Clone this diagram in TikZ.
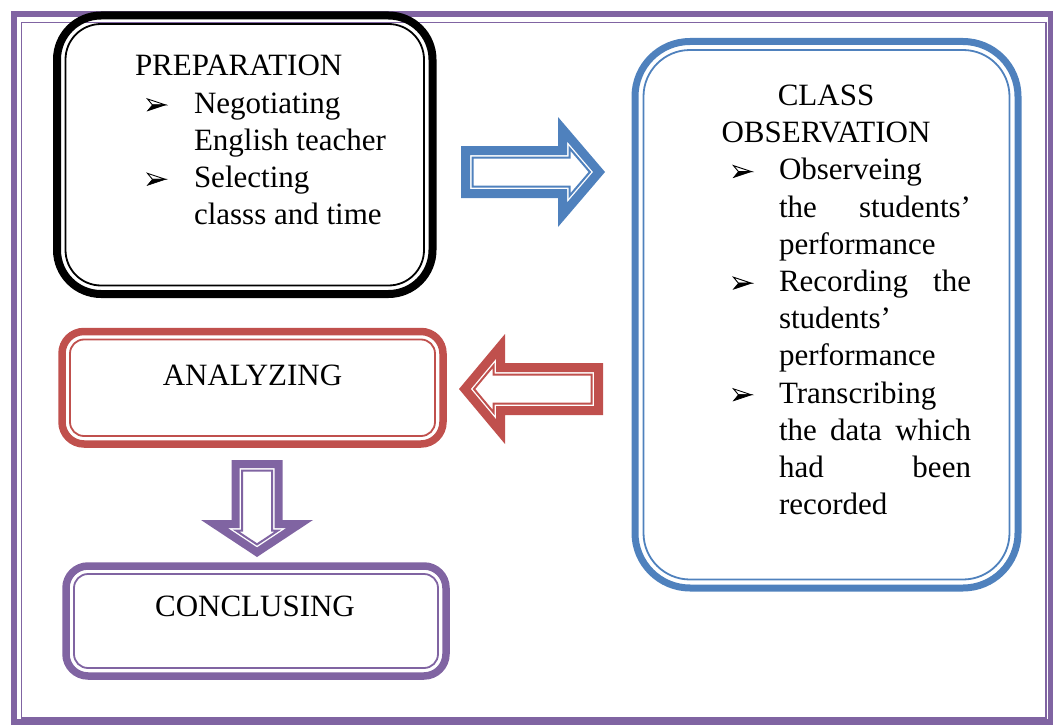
\documentclass[tikz,border=0pt]{standalone}
\usepackage{fontspec}
\setmainfont{Liberation Serif}
\definecolor{oblue}{HTML}{4F81BD}
\definecolor{ored}{HTML}{C0504D}
\definecolor{opurple}{HTML}{8064A2}
% bullet: 3-D arrowhead, upper half outlined, lower half filled
\newcommand\bul{\tikz[x=1pt,y=1pt,baseline=-2.3pt]{%
  \fill[black] (5,6)--(18,6)--(0,0)--cycle;
  \draw[black,line width=0.9pt,line join=miter] (0,12)--(18,6)--(5,6)--cycle;
  \draw[black,line width=0.6pt,line join=miter] (5,6)--(18,6)--(0,0)--cycle;}}
% block arrow in local frame: tail at x=0, tip at x=#2, symmetric about y=0
% #1 options, #2 length, #3 shaft half height, #4 head length, #5 head half height, #6 inset
\newcommand\arrowpoly[6]{%
  \pgfmathsetmacro\aHB{#2-#4}%
  \pgfmathsetmacro\aS{sqrt((#4)*(#4)+(#5)*(#5))}%
  \pgfmathsetmacro\aTx{#2-#6*\aS/#5}%
  \pgfmathsetmacro\aBx{\aHB+#6}%
  \pgfmathsetmacro\aHy{#5-#5*#6/#4-#6*\aS/#4}%
  \pgfmathsetmacro\ah{#3-#6}%
  \draw[#1] (#6,\ah) -- (\aBx,\ah) -- (\aBx,\aHy) -- (\aTx,0) -- (\aBx,-\aHy) -- (\aBx,-\ah) -- (#6,-\ah) -- cycle;
}
\begin{document}
\begin{tikzpicture}[x=1pt,y=-1pt,
  outerbox/.style={draw=#1, line width=8pt, inner sep=0pt, outer sep=0pt},
  innerbox/.style={draw=#1, line width=1.8pt, inner sep=0pt, outer sep=0pt},
  txt/.style={inner sep=0pt, outer sep=0pt, font=\fontsize{31}{37.2}\selectfont},
  bandline/.style={draw=#1, line width=9pt, line join=miter, fill=white},
  thinline/.style={draw=#1, line width=2pt, line join=miter}]
\useasboundingbox (0,0) rectangle (1053,725);
% outer frame
\draw[opurple, line width=6pt] (13.5,14.5) rectangle (1050.5,721.5);
\draw[opurple, line width=1.8pt] (21.5,22.5) rectangle (1046,718);

% PREPARATION box
\node[outerbox=black, rounded corners=44pt, minimum width=375.5pt, minimum height=278.5pt] (prep) at (244.75,154.75) {};
\node[innerbox=black, rounded corners=35.5pt, minimum width=358.5pt, minimum height=261.5pt] (prepin) at (prep.center) {};
\node[txt, anchor=base west] (preptext) at (135,76) {\parbox[t]{300pt}{%
PREPARATION\\
\hspace*{12pt}\makebox[47pt][l]{\bul}Negotiating\\
\hspace*{59pt}English teacher\\
\hspace*{12pt}\makebox[47pt][l]{\bul}Selecting\\
\hspace*{59pt}classs and time}};

% CLASS OBSERVATION box
\node[outerbox=oblue, line width=7pt, rounded corners=55pt, minimum width=383pt, minimum height=546.5pt] (obs) at (826.5,314.75) {};
\node[innerbox=oblue, rounded corners=46.5pt, minimum width=366pt, minimum height=529.5pt] (obsin) at (obs.center) {};
\node[txt, anchor=base west] (obstext) at (681,105.5) {\parbox[t]{290pt}{%
\makebox[290pt]{CLASS}\\
\makebox[290pt]{OBSERVATION}\\
\hspace*{52pt}\makebox[46pt][l]{\bul}Observeing\\
\hspace*{98pt}\hbox to 192pt{the\hfill students’}\\
\hspace*{98pt}performance\\
\hspace*{52pt}\makebox[46pt][l]{\bul}\hbox to 192pt{Recording\hfill the}\\
\hspace*{98pt}students’\\
\hspace*{98pt}performance\\
\hspace*{52pt}\makebox[46pt][l]{\bul}Transcribing\\
\hspace*{98pt}\hbox to 192pt{the\hfill data\hfill which}\\
\hspace*{98pt}\hbox to 192pt{had\hfill been}\\
\hspace*{98pt}recorded}};

% ANALYZING box
\node[outerbox=ored, line width=7.5pt, rounded corners=22pt, minimum width=381pt, minimum height=112.5pt] (ana) at (252.5,387.75) {};
\node[innerbox=ored, rounded corners=14pt, minimum width=365pt, minimum height=96.5pt] (anain) at (ana.center) {};
\node[txt, anchor=base] (anatext) at (252.5,385) {ANALYZING};

% CONCLUSING box
\node[outerbox=opurple, line width=7.5pt, rounded corners=22pt, minimum width=380pt, minimum height=110pt] (con) at (256,621) {};
\node[innerbox=opurple, rounded corners=14pt, minimum width=364pt, minimum height=94pt] (conin) at (con.center) {};
\node[txt, anchor=base] (context) at (255,616) {CONCLUSING};

% block arrows
\begin{scope}[shift={(461,172)}]
  \arrowpoly{bandline=oblue}{144}{26}{47}{55}{4.5}
  \arrowpoly{thinline=oblue}{144}{26}{47}{55}{11.5}
\end{scope}
\begin{scope}[shift={(603,389)}, rotate=180]
  \arrowpoly{bandline=ored}{144}{26}{46}{55}{4.5}
  \arrowpoly{thinline=ored}{144}{26}{46}{55}{11.5}
\end{scope}
\begin{scope}[shift={(257,460)}, rotate=-90]
  \arrowpoly{bandline=opurple, line width=8pt}{97}{25.5}{37}{56}{4}
  \arrowpoly{thinline=opurple}{97}{25.5}{37}{56}{10.5}
\end{scope}
\end{tikzpicture}
\end{document}
